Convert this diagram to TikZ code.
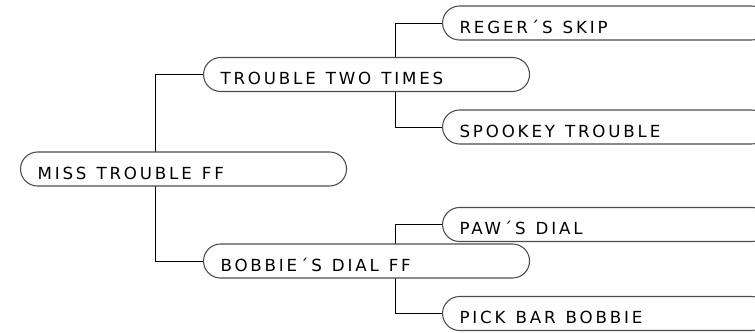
\documentclass[tikz,border=0pt]{standalone}
\usepackage{fontspec}
\usepackage{tikz}
\usetikzlibrary{backgrounds}
\newfontfamily\horsefont[LetterSpace=17]{DejaVu Sans}
\newcommand\horselabel[1]{\makebox[219pt][l]{\spaceskip=7.5pt\relax#1}}

\tikzset{
  horse/.style={draw=black!70, line width=0.8pt, fill=white, rounded corners=12.75pt,
    anchor=west, minimum height=25.5pt, inner ysep=0pt, inner xsep=12.75pt,
    text height=15pt, text depth=0pt,
    text=black, font=\horsefont\fontsize{12.5}{14}\selectfont},
  link/.style={black, line width=0.6pt}
}

\begin{document}
\begin{tikzpicture}[x=0.75pt,y=-0.75pt]
\useasboundingbox(0,0) rectangle (755,332);
\clip(0,0) rectangle (755,332);
\node[horse](root)at(20,169){\horselabel{MISS TROUBLE FF}};
\node[horse](ttt)at(203,74.5){\horselabel{TROUBLE TWO TIMES}};
\node[horse](bobbie)at(203,261){\horselabel{BOBBIE´S DIAL FF}};
\node[horse](reger)at(442,23){\horselabel{REGER´S SKIP}};
\node[horse](spook)at(442,127){\horselabel{SPOOKEY TROUBLE}};
\node[horse](paw)at(442,224.5){\horselabel{PAW´S DIAL}};
\node[horse](pick)at(442,313.5){\horselabel{PICK BAR BOBBIE}};
\begin{pgfonlayer}{background}
\draw[link](ttt.west)--++(-48,0)|-(bobbie.west);
\draw[link](reger.west)--++(-47,0)|-(spook.west);
\draw[link](paw.west)--++(-47,0)|-(pick.west);
\end{pgfonlayer}
\end{tikzpicture}
\end{document}
